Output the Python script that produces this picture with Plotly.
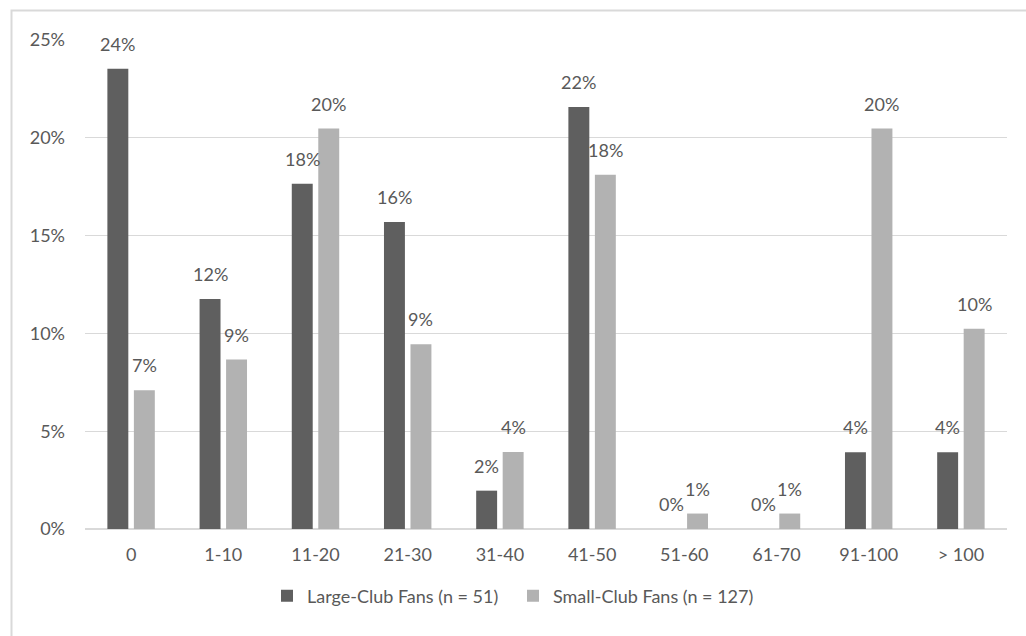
import plotly.graph_objects as go

categories = ["0", "1-10", "11-20", "21-30", "31-40", "41-50", "51-60", "61-70", "91-100", "> 100"]
large_club = [23.53, 11.76, 17.65, 15.69, 1.96, 21.57, 0.0, 0.0, 3.92, 3.92]
small_club = [7.09, 8.66, 20.47, 9.45, 3.94, 18.11, 0.79, 0.79, 20.47, 10.24]
large_name = "Large-Club Fans (n = 51)"
small_name = "Small-Club Fans (n = 127)"
y_ticks = [0, 5, 10, 15, 20, 25]

DARK = "#5f5f5f"
LIGHT = "#b2b2b2"
TXT = "#595959"
FONT = "Lato"
FS = 18

fig = go.Figure()
fig.add_trace(go.Bar(x=categories, y=large_club, name=large_name, marker_color=DARK,
                     marker_line_width=0))
fig.add_trace(go.Bar(x=categories, y=small_club, name=small_name, marker_color=LIGHT,
                     marker_line_width=0))

L, R, T, B = 85, 19, 40, 107
W, H = 1026, 636
pw, ph = W - L - R, H - T - B
group_w = pw / len(categories)
bargap = 0.425
bargroupgap = 0.21
slot = group_w * (1 - bargap) / 2
off = slot / 2

annotations = []
for vals, sh in ((large_club, -off), (small_club, off)):
    for c, v in zip(categories, vals):
        annotations.append(dict(x=c, y=v, xref="x", yref="y", text=f"{round(v):.0f}%",
                                showarrow=False, xshift=sh, yshift=12, yanchor="bottom",
                                font=dict(family=FONT, size=FS, color=TXT)))

fig.update_layout(
    width=W, height=H,
    margin=dict(l=L, r=R, t=T, b=B, autoexpand=False),
    paper_bgcolor="white", plot_bgcolor="white",
    barmode="group", bargap=bargap, bargroupgap=bargroupgap,
    font=dict(family=FONT, size=FS, color=TXT),
    annotations=annotations,
    legend=dict(orientation="h", x=(267 - L) / pw, xanchor="left", y=-0.137, yanchor="middle",
                font=dict(family=FONT, size=FS, color=TXT), itemwidth=30,
                entrywidth=201, entrywidthmode="pixels",
                traceorder="normal"),
    shapes=[dict(type="rect", xref="paper", yref="paper",
                 x0=(11.5 - L) / pw, x1=(W + 5 - L) / pw,
                 y0=-(H + 5 - (T + ph)) / ph, y1=1 + (T - 10.5) / ph,
                 line=dict(color="#d9d9d9", width=2), fillcolor="rgba(0,0,0,0)", layer="below")],
)
fig.update_yaxes(range=[0, 25], tickvals=y_ticks, ticktext=[f"{t}%" for t in y_ticks],
                 showgrid=True, gridcolor="#d9d9d9", gridwidth=1.3,
                 zeroline=True, zerolinecolor="#d9d9d9", zerolinewidth=1.5,
                 showline=False, ticklabelstandoff=19, fixedrange=True)
fig.update_xaxes(showgrid=False, showline=False, ticks="", ticklabelstandoff=13,
                 tickfont=dict(family=FONT, size=FS, color=TXT))

fig.write_html("out.html")
